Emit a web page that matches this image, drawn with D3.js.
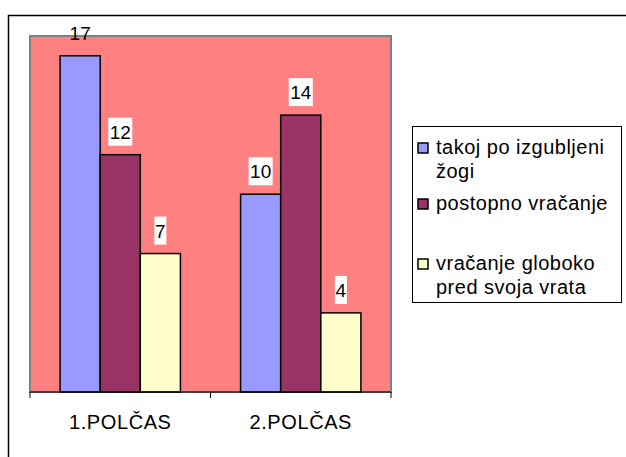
<!DOCTYPE html>
<html>
<head>
<meta charset="utf-8">
<script src="https://cdn.jsdelivr.net/npm/d3@7/dist/d3.min.js"></script>
<style>
  body { margin: 0; background: #fff; }
  svg { display: block; font-family: "Liberation Sans", Arial, sans-serif; }
</style>
</head>
<body>
<div id="chart"></div>
<script>
// --- data ---
const categories = ["1.POLČAS", "2.POLČAS"];
const seriesNames = ["takoj po izgubljeni žogi", "postopno vračanje", "vračanje globoko pred svoja vrata"];
const seriesValues = [
  [17, 10],   // takoj po izgubljeni žogi
  [12, 14],   // postopno vračanje
  [7, 4]      // vračanje globoko pred svoja vrata
];
const seriesColors = ["#9999FF", "#993366", "#FFFFCC"];
const legendLines = [["takoj po izgubljeni", "žogi"], ["postopno vračanje"], ["vračanje globoko", "pred svoja vrata"]];

// --- canvas ---
const W = 626, H = 457;
const svg = d3.select("#chart").append("svg")
  .attr("width", W).attr("height", H);

// outer chart border
svg.append("rect")
  .attr("x", 8.5).attr("y", 15.5)
  .attr("width", W + 10).attr("height", H + 10)
  .attr("fill", "#fff").attr("stroke", "#000").attr("stroke-width", 1.5);

const plot = { left: 30, top: 36, right: 391, bottom: 392 };

const x0 = d3.scaleBand().domain(categories).range([plot.left, plot.right]).paddingInner(0).paddingOuter(0);
const x1 = d3.scaleBand().domain(d3.range(seriesNames.length)).range([0, x0.bandwidth()]).paddingInner(0).paddingOuter(0.75);
const y = d3.scaleLinear().domain([0, 18]).range([plot.bottom, plot.top]);

// plot area
svg.append("rect")
  .attr("x", plot.left).attr("y", plot.top)
  .attr("width", plot.right - plot.left).attr("height", plot.bottom - plot.top)
  .attr("fill", "#FF8080").attr("stroke", "#808080").attr("stroke-width", 2);

// bars
const groups = svg.selectAll(".grp")
  .data(categories)
  .enter().append("g")
  .attr("transform", d => `translate(${x0(d)},0)`);

groups.each(function (cat, ci) {
  const g = d3.select(this);
  seriesValues.forEach((vals, si) => {
    const v = vals[ci];
    const bx = x1(si), bw = x1.bandwidth();
    g.append("rect")
      .attr("x", bx).attr("y", y(v))
      .attr("width", bw).attr("height", y(0) - y(v))
      .attr("fill", seriesColors[si]).attr("stroke", "#000").attr("stroke-width", 1.5);

    // value label with white box (skipped where the box would leave the plot area)
    const cx = bx + bw / 2;
    const boxH = 28, boxW = String(v).length * 12;
    const boxTop = y(v) - 9 - boxH;
    if (boxTop >= plot.top) {
      g.append("rect")
        .attr("x", cx - boxW / 2).attr("y", boxTop)
        .attr("width", boxW).attr("height", boxH)
        .attr("fill", "#fff");
    }
    g.append("text")
      .attr("x", cx).attr("y", boxTop + boxH / 2 + 7)
      .attr("text-anchor", "middle")
      .attr("font-size", 19)
      .attr("fill", "#000")
      .text(v);
  });
});

// x axis
const axisG = svg.append("g").attr("transform", `translate(0,${plot.bottom})`);
axisG.append("line")
  .attr("x1", plot.left).attr("x2", plot.right)
  .attr("stroke", "#000").attr("stroke-width", 1);
axisG.selectAll(".tk")
  .data([plot.left].concat(categories.map(c => x0(c) + x0.bandwidth())))
  .enter().append("line")
  .attr("x1", d => d).attr("x2", d => d)
  .attr("y1", 0).attr("y2", 6)
  .attr("stroke", "#000");
axisG.selectAll(".lbl")
  .data(categories)
  .enter().append("text")
  .attr("x", d => x0(d) + x0.bandwidth() / 2)
  .attr("y", 37)
  .attr("text-anchor", "middle")
  .attr("font-size", 20)
  .attr("letter-spacing", "0.6px")
  .text(d => d);

// legend
const legend = svg.append("g");
legend.append("rect")
  .attr("x", 412.5).attr("y", 126.5)
  .attr("width", 209).attr("height", 176)
  .attr("fill", "#fff").attr("stroke", "#000").attr("stroke-width", 1);

const legendBase = [154, 210, 270];
legendLines.forEach((lines, i) => {
  legend.append("rect")
    .attr("x", 418).attr("y", legendBase[i] - 11)
    .attr("width", 10).attr("height", 10)
    .attr("fill", seriesColors[i]).attr("stroke", "#000").attr("stroke-width", 1.5);
  lines.forEach((t, j) => {
    legend.append("text")
      .attr("x", 436).attr("y", legendBase[i] + j * 24)
      .attr("font-size", 20)
      .attr("letter-spacing", "0.5px")
      .text(t);
  });
});
</script>
</body>
</html>
